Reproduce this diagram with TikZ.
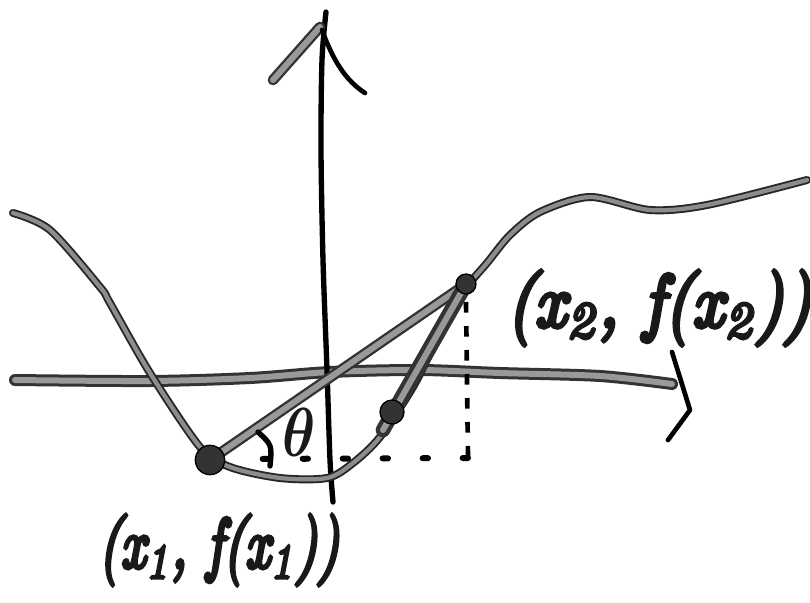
\documentclass[tikz,border=0pt]{standalone}
\usepackage{graphicx}
\usepackage{fontspec}
\newfontfamily\handfont[FakeBold=6]{Latin Modern Roman}
\begin{document}
\begin{tikzpicture}[x=0.75pt,y=-0.75pt,
  ink/.style={draw=black, line width=4pt, line cap=round, line join=round},
  grayband/.style={draw=black!80, line width=8pt, line cap=round, line join=round,
     postaction={draw=black!40, line width=4.5pt, line cap=round, line join=round}},
  curveline/.style={draw=black!85, line width=6pt, line cap=round, line join=round,
     postaction={draw=black!45, line width=3.2pt, line cap=round, line join=round}},
  dashv/.style={draw=black, line width=3.5pt, dash pattern=on 8pt off 10pt},
  dashh/.style={draw=black, line width=4.5pt, line cap=round, dash pattern=on 4pt off 26pt},
  dot/.style={circle, fill=black!80, draw=black, line width=1pt, inner sep=0pt, minimum size=#1},
  lbl/.style={inner sep=0pt, text=black!90, font=\handfont\itshape}]
\useasboundingbox (0,0) rectangle (810,603);
\fill[white] (0,0) rectangle (810,603);
% key points
\coordinate (A) at (210,460);
\coordinate (B) at (466,284);
\coordinate (C) at (392,412);
\coordinate (Cl) at (383,430);
\coordinate (Corner) at (468,458);
% x axis
\draw[grayband, line width=9pt] plot[smooth] coordinates {(15,380) (150,381) (250,378) (330,372) (420,370) (500,373) (600,376) (672,384)};
\coordinate (xt1) at (672,352);
\coordinate (xt2) at (690,410);
\coordinate (xt3) at (668,440);
\draw[ink, line width=3.5pt] (xt1) -- (xt2) -- (xt3);
% y axis
\draw[ink] plot[smooth] coordinates {(333,502) (330,460) (327,370) (323,260) (321,150) (322,60) (326,12)};
\coordinate (yt) at (320,27);
\coordinate (yl) at (273,80);
\coordinate (yr) at (365,93);
\draw[grayband] (yt) -- (yl);
\draw[ink, line width=3.5pt] (322,30) .. controls (333,60) and (345,80) .. (yr);
% curve f
\draw[curveline] plot[smooth] coordinates {(13,213) (50,230) (100,287) (110,303) (150,373) (200,447) (230,467) (280,478) (327,478) (353,463) (380,437) (413,387) (433,347) (453,310) (470,283) (487,263) (510,235) (540,212) (590,197) (650,210) (707,205) (807,180)};
% secants
\draw[grayband] (A) -- (B);
\draw[grayband, line width=11pt] (Cl) -- (B);
% dashed guides
\draw[dashv] (466,302) -- (Corner);
\draw[dashh] (Corner) -- (250,459);
% angle mark and theta
\draw[ink] (258,432) .. controls (272,445) .. (270,466);
\node[lbl, font=\boldmath] (theta) at (299,432) {\scalebox{4.2}[5.2]{$\theta$}};
% dots
\node[dot=22pt] (P1) at (A) {};
\node[dot=15pt] (P2) at (B) {};
\node[dot=18pt] (P3) at (C) {};
% labels
\node[lbl] (L1) at (219,550) {\scalebox{4.03}[5.3]{(x\textsubscript{1}, f(x\textsubscript{1}))}};
\node[lbl] (L2) at (659,308) {\scalebox{5.1}[5.6]{(x\textsubscript{2}, f(x\textsubscript{2}))}};
\end{tikzpicture}
\end{document}
